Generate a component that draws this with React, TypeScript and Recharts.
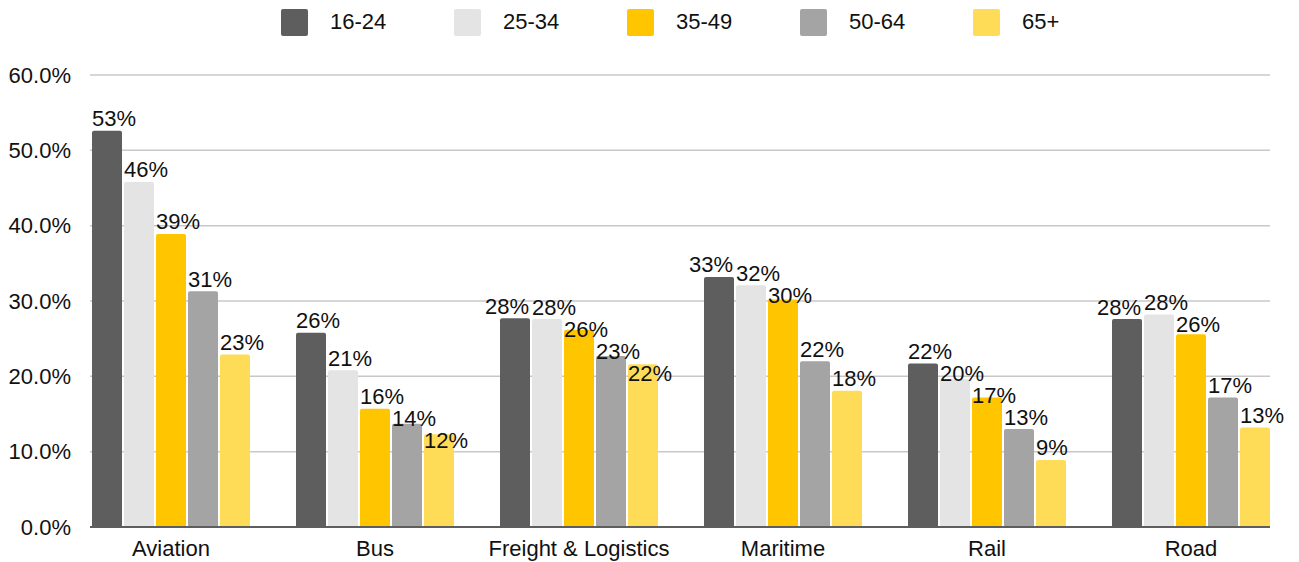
import { BarChart, Bar, XAxis, YAxis, CartesianGrid, Legend, LabelList } from "recharts";

const SECTORS = ["Aviation", "Bus", "Freight & Logistics", "Maritime", "Rail", "Road"];
const AGE_GROUPS = ["16-24", "25-34", "35-49", "50-64", "65+"];
const AGE_KEYS = ["a16", "a25", "a35", "a50", "a65"];
const AGE_COLORS = ["#5e5e5e", "#e4e4e4", "#ffc600", "#a4a4a4", "#ffdc58"];

// share of respondents per sector, one array per age group
const AGE_16_24 = [0.526, 0.258, 0.277, 0.332, 0.217, 0.276];
const AGE_25_34 = [0.458, 0.208, 0.276, 0.321, 0.196, 0.282];
const AGE_35_49 = [0.389, 0.157, 0.262, 0.302, 0.172, 0.256];
const AGE_50_64 = [0.313, 0.137, 0.227, 0.22, 0.13, 0.172];
const AGE_65_PLUS = [0.229, 0.123, 0.216, 0.181, 0.089, 0.132];
const SERIES_VALUES = [AGE_16_24, AGE_25_34, AGE_35_49, AGE_50_64, AGE_65_PLUS];

const Y_TICKS = [0, 0.1, 0.2, 0.3, 0.4, 0.5, 0.6];

const data = SECTORS.map((sector, i) => {
  const row: Record<string, string | number> = { sector };
  AGE_KEYS.forEach((k, s) => (row[k] = SERIES_VALUES[s][i]));
  return row;
});

const FONT = '"Liberation Sans", Arial, Helvetica, sans-serif';
const BAR_GAP = 2;
const LABEL_LIFT = 4.5;
const LABEL_STEP = 22;

const pct = (v: number) => `${Math.round(v * 100)}%`;

// Places the value labels of one sector so neighbours don't sit on top of each other:
// the first label slides left when the second is at the same height, the rest get pushed down.
function layoutLabels(vals: number[], left0: number, pitch: number, bottom: number, k: number) {
  const natural = vals.map((v) => bottom - v * k - LABEL_LIFT);
  const out = vals.map((_, s) => ({ x: left0 + s * pitch, y: natural[s], anchor: "start" as "start" | "end" }));
  let firstShifted = false;
  if (Math.abs(natural[1] - natural[0]) < 10) {
    out[0].x = left0 + pitch - 3;
    out[0].anchor = "end";
    firstShifted = true;
  }
  for (let s = 1; s < vals.length; s++) {
    if (s === 1 && firstShifted) continue;
    if (Math.abs(out[s].y - out[s - 1].y) < LABEL_STEP) out[s].y = out[s - 1].y + LABEL_STEP;
  }
  return out;
}

function makeLabel(series: number) {
  return (props: any) => {
    const vb = props.viewBox ?? {};
    const x = Number(props.x ?? vb.x);
    const y = Number(props.y ?? vb.y);
    const width = Number(props.width ?? vb.width);
    const height = Number(props.height ?? vb.height);
    const value = Number(props.value);
    let idx = props.index;
    if (idx === undefined || idx === null) idx = SERIES_VALUES[series].indexOf(value);
    const vals = SERIES_VALUES.map((arr) => arr[idx]);
    const k = height / vals[series];
    const pitch = width + BAR_GAP;
    const pos = layoutLabels(vals, x - series * pitch, pitch, y + height, k)[series];
    return (
      <text x={pos.x} y={pos.y} textAnchor={pos.anchor} fontSize={22} fontFamily={FONT} fill="#111">
        {pct(vals[series])}
      </text>
    );
  };
}

function AgeLegend() {
  return (
    <div style={{ display: "flex", alignItems: "center", height: 44, paddingLeft: 281, fontFamily: FONT }}>
      {AGE_GROUPS.map((g, i) => (
        <div key={g} style={{ display: "flex", alignItems: "center", width: 173 }}>
          <span
            style={{ width: 27, height: 27, borderRadius: 2, background: AGE_COLORS[i], marginRight: 22, display: "inline-block" }}
          />
          <span style={{ fontSize: 22, color: "#111" }}>{g}</span>
        </div>
      ))}
    </div>
  );
}

export default function App() {
  return (
    <div style={{ position: "absolute", left: 0, top: 0, width: 1299, height: 562, background: "#fff" }}>
      <BarChart
        width={1299}
        height={562}
        data={data}
        margin={{ top: 31, right: 29, bottom: 0, left: 0 }}
        barGap={BAR_GAP}
        barCategoryGap={23}
      >
        <Legend
          verticalAlign="top"
          content={() => <AgeLegend />}
          wrapperStyle={{ top: 0, left: 0, width: 1299, height: 44 }}
        />
        <CartesianGrid vertical={false} stroke="#c8c8c8" strokeWidth={1.5} />
        <XAxis
          dataKey="sector"
          height={35}
          padding={{ left: -21, right: -23 }}
          axisLine={{ stroke: "#5e5e5e", strokeWidth: 2 }}
          tickLine={false}
          tickSize={0}
          tickMargin={13}
          tick={{ fill: "#111", fontSize: 22, fontFamily: FONT }}
          interval={0}
        />
        <YAxis
          width={90}
          domain={[0, 0.6]}
          ticks={Y_TICKS}
          tickFormatter={(v: number) => `${(v * 100).toFixed(1)}%`}
          axisLine={false}
          tickLine={false}
          tickSize={0}
          tickMargin={19}
          tick={{ fill: "#111", fontSize: 22, fontFamily: FONT }}
        />
        {AGE_KEYS.map((k, s) => (
          <Bar key={k} dataKey={k} name={AGE_GROUPS[s]} fill={AGE_COLORS[s]} radius={[2, 2, 0, 0]} isAnimationActive={false}>
            <LabelList dataKey={k} content={makeLabel(s)} />
          </Bar>
        ))}
      </BarChart>
    </div>
  );
}
